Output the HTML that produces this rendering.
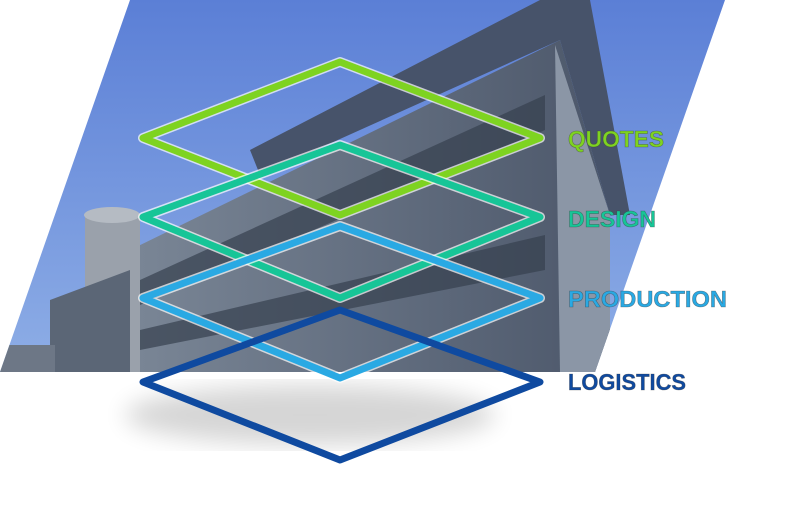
<!DOCTYPE html>
<html><head><meta charset="utf-8"><style>
html,body{margin:0;padding:0;background:#fff;width:790px;height:508px;overflow:hidden}
text{font-family:"Liberation Sans",sans-serif;font-weight:bold}
</style></head><body>
<svg width="790" height="508" viewBox="0 0 790 508" xmlns="http://www.w3.org/2000/svg">
<defs>
<linearGradient id="sky" x1="0" y1="0" x2="0" y2="1">
<stop offset="0" stop-color="#5b7fd6"/><stop offset="1" stop-color="#8eaee6"/></linearGradient>
<linearGradient id="wall" x1="0" y1="0" x2="1" y2="0">
<stop offset="0" stop-color="#7a8696"/><stop offset="1" stop-color="#4c576a"/></linearGradient>
<clipPath id="pg"><polygon points="130,0 725,0 595,372 0,372"/></clipPath>
<filter id="blur"><feGaussianBlur stdDeviation="12"/></filter>
</defs>
<ellipse cx="310" cy="415" rx="185" ry="30" fill="#000" opacity="0.16" filter="url(#blur)"/>
<g clip-path="url(#pg)">
<rect x="0" y="0" width="790" height="372" fill="url(#sky)"/>
<polygon points="250,150 540,0 590,0 630,215 610,215 560,40 260,175" fill="#47536a"/>
<polygon points="130,250 560,40 610,215 610,372 130,372" fill="url(#wall)"/>
<polygon points="555,45 610,215 610,372 560,372" fill="#8b96a6"/>
<polygon points="140,280 545,95 545,130 140,305" fill="#36404f" opacity="0.7"/>
<polygon points="140,330 545,235 545,270 140,350" fill="#36404f" opacity="0.7"/>
<rect x="85" y="215" width="55" height="157" fill="#9aa1ab"/>
<ellipse cx="112" cy="215" rx="28" ry="8" fill="#b5bbc3"/>
<polygon points="50,300 130,270 130,372 50,372" fill="#5b6676"/>
<rect x="0" y="345" width="55" height="27" fill="#6d7786"/>
</g>
<g fill="none" stroke-linejoin="round">
<polygon points="340,62 540,138 340,215 143,138" stroke="#fff" stroke-width="10" opacity="0.7"/>
<polygon points="340,62 540,138 340,215 143,138" stroke="#7ed321" stroke-width="7"/>
<polygon points="340,145 540,217 340,298 143,217" stroke="#fff" stroke-width="10" opacity="0.7"/>
<polygon points="340,145 540,217 340,298 143,217" stroke="#17c597" stroke-width="7"/>
<polygon points="340,226 540,298 340,378 143,298" stroke="#fff" stroke-width="10" opacity="0.7"/>
<polygon points="340,226 540,298 340,378 143,298" stroke="#2aa9e3" stroke-width="7"/>
<polygon points="340,310 540,382 340,460 143,382" stroke="#0f4aa0" stroke-width="7"/>
</g>
<g stroke="#333" stroke-width="0.6" stroke-opacity="0.5">
<text x="568" y="147" font-size="23" fill="#7ed321" textLength="96" lengthAdjust="spacingAndGlyphs">QUOTES</text>
<text x="568" y="227" font-size="23" fill="#17c597" textLength="88" lengthAdjust="spacingAndGlyphs">DESIGN</text>
<text x="568" y="307" font-size="23" fill="#2aa9e3" textLength="159" lengthAdjust="spacingAndGlyphs">PRODUCTION</text>
<text x="568" y="390" font-size="23" fill="#0f4aa0" textLength="118" lengthAdjust="spacingAndGlyphs">LOGISTICS</text>
</g>
</svg>
</body></html>
